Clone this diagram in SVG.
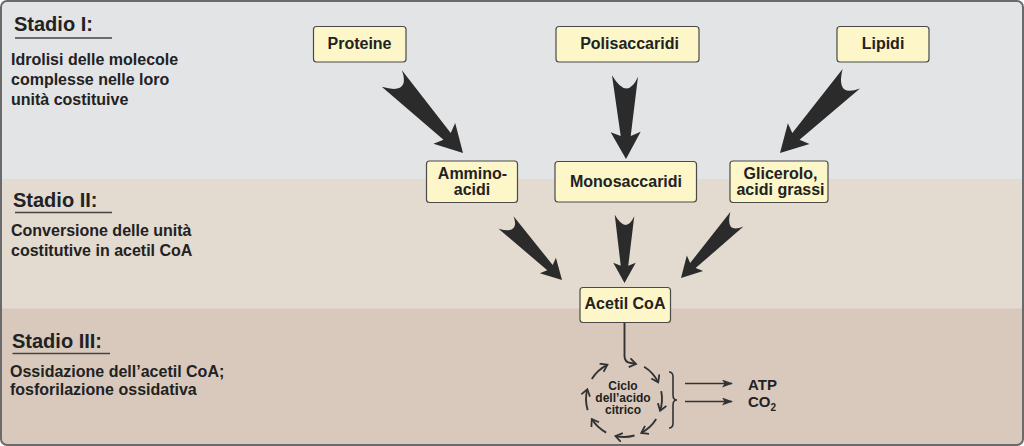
<svg xmlns="http://www.w3.org/2000/svg" width="1024" height="446" viewBox="0 0 1024 446">
<style>
.hdr{font-family:"Liberation Sans",Arial,sans-serif;font-weight:bold;font-size:20px;fill:#222}
.desc{font-family:"Liberation Sans",Arial,sans-serif;font-weight:bold;font-size:16px;fill:#222}
.lbl{font-family:"Liberation Sans",Arial,sans-serif;font-weight:bold;font-size:16px;fill:#222;text-anchor:middle}
.cyc{font-family:"Liberation Sans",Arial,sans-serif;font-weight:bold;font-size:12px;fill:#222;text-anchor:middle}
.box{fill:#fcf6c8;stroke:#4a4a4a;stroke-width:1.2}
.ul{stroke:#444;stroke-width:1.6}
.big{fill:#2b2b2b}
.arc{fill:none;stroke:#333;stroke-width:1.9;marker-end:url(#chev)}
.thin{fill:none;stroke:#333;stroke-width:1.6}
</style>
<defs>
<clipPath id="frame"><rect x="1" y="1" width="1022" height="444" rx="6"/></clipPath>
<marker id="chev" markerUnits="userSpaceOnUse" markerWidth="12" markerHeight="12" refX="7" refY="5" orient="auto">
<path d="M0.5,0.5 L7,5 L0.5,9.5" fill="none" stroke="#333" stroke-width="1.8"/>
</marker>
<marker id="tri" markerUnits="userSpaceOnUse" markerWidth="12" markerHeight="10" refX="10" refY="4" orient="auto">
<path d="M0,0 L11,4 L0,8 L2.5,4 Z" fill="#333"/>
</marker>
</defs>

<g id="background" clip-path="url(#frame)">
<rect x="0" y="0" width="1024" height="179" fill="#e3e4e6"/>
<rect x="0" y="179" width="1024" height="130" fill="#e3dad0"/>
<rect x="0" y="308.5" width="1024" height="138" fill="#d9c9bc"/>
</g>
<rect x="1" y="1" width="1022" height="444" rx="6" fill="none" stroke="#6a6a6a" stroke-width="2"/>

<g id="stage1">
<text class="hdr" x="14" y="31">Stadio I:</text>
<line class="ul" x1="15" y1="38" x2="112" y2="38"/>
<text class="desc" x="11" y="65">Idrolisi delle molecole</text>
<text class="desc" x="11" y="85">complesse nelle loro</text>
<text class="desc" x="11" y="105">unità costituive</text>
</g>
<g id="stage2">
<text class="hdr" x="13" y="206.5">Stadio II:</text>
<line class="ul" x1="15" y1="212.5" x2="112" y2="212.5"/>
<text class="desc" x="11" y="236">Conversione delle unità</text>
<text class="desc" x="11" y="255.5">costitutive in acetil CoA</text>
</g>
<g id="stage3">
<text class="hdr" x="12" y="347.5">Stadio III:</text>
<line class="ul" x1="12.5" y1="353.5" x2="110" y2="353.5"/>
<text class="desc" x="10" y="377">Ossidazione dell’acetil CoA;</text>
<text class="desc" x="10" y="395">fosforilazione ossidativa</text>
</g>

<g id="proteine">
<rect class="box" x="313.5" y="26.5" width="92.5" height="35.5" rx="3"/>
<text class="lbl" x="359.5" y="48.5">Proteine</text>
</g>
<g id="polisaccaridi">
<rect class="box" x="556" y="26.5" width="143" height="35.5" rx="3"/>
<text class="lbl" x="629.5" y="48.5">Polisaccaridi</text>
</g>
<g id="lipidi">
<rect class="box" x="837" y="26.5" width="92" height="35.5" rx="3"/>
<text class="lbl" x="883" y="48.5">Lipidi</text>
</g>
<g id="amminoacidi">
<rect class="box" x="426.5" y="161" width="91" height="41.5" rx="3"/>
<text class="lbl" x="472.5" y="179">Ammino-</text>
<text class="lbl" x="472" y="195">acidi</text>
</g>
<g id="monosaccaridi">
<rect class="box" x="555" y="161.5" width="141.5" height="40.5" rx="3"/>
<text class="lbl" x="626" y="187">Monosaccaridi</text>
</g>
<g id="glicerolo">
<rect class="box" x="730" y="161" width="98" height="41.5" rx="3"/>
<text class="lbl" x="780.5" y="178.5">Glicerolo,</text>
<text class="lbl" x="780.5" y="194.5">acidi grassi</text>
</g>
<g id="acetilcoa">
<rect class="box" x="580" y="287.5" width="90.5" height="35" rx="3"/>
<text class="lbl" x="625" y="308.5">Acetil CoA</text>
</g>

<g id="cycle">
<text class="cyc" x="623" y="389.5">Ciclo</text>
<text class="cyc" x="623" y="401.5">dell’acido</text>
<text class="cyc" x="623" y="413.5">citrico</text>
</g>

<g id="products">
<text class="lbl" x="748" y="390" style="text-anchor:start;font-size:15px">ATP</text>
<text class="lbl" x="748" y="406.5" style="text-anchor:start;font-size:15px">CO<tspan font-size="10" dy="4">2</tspan></text>
</g>

<g id="connectors">
<path class="big" transform="translate(463,153) rotate(-43.7)" d="M0 0 L-15 -27 L-5 -23 L-13 -104 Q2 -78 13 -102 L5 -23 L15 -27 Z"/>
<path class="big" transform="translate(626,159) rotate(-0.7)" d="M0 0 L-15 -27 L-5 -23 L-13 -84 Q2 -58 13 -82 L5 -23 L15 -27 Z"/>
<path class="big" transform="translate(780,153) rotate(43.8)" d="M0 0 L-15 -27 L-5 -23 L-13 -104 Q2 -78 13 -102 L5 -23 L15 -27 Z"/>
<path class="big" transform="translate(562,280) rotate(-44.2) scale(0.75)" d="M0 0 L-15 -27 L-5 -23 L-13 -108 Q2 -82 13 -106 L5 -23 L15 -27 Z"/>
<path class="big" transform="translate(624.5,283) scale(0.75)" d="M0 0 L-15 -27 L-5 -23 L-13 -91 Q2 -65 13 -89 L5 -23 L15 -27 Z"/>
<path class="big" transform="translate(681,278) rotate(43.6) scale(0.75)" d="M0 0 L-15 -27 L-5 -23 L-13 -109 Q2 -83 13 -107 L5 -23 L15 -27 Z"/>

<path class="arc" d="M624.5 322.5 V356 Q624.5 362.5 631 363 L636 364"/>
<path class="arc" d="M644.1 366.8 A38 38 0 0 1 658.2 382.3"/>
<path class="arc" d="M661.2 391.1 A38 38 0 0 1 660.1 410.7"/>
<path class="arc" d="M656.2 419.1 A38 38 0 0 1 641.3 432.9"/>
<path class="arc" d="M634.5 435.5 A38 38 0 0 1 615.5 436"/>
<path class="arc" d="M606.2 432.6 A38 38 0 0 1 591.8 419.1"/>
<path class="arc" d="M587.7 410.1 A38 38 0 0 1 587.3 389.2"/>
<path class="arc" d="M591.8 378.9 A38 38 0 0 1 607.4 364.8"/>

<path class="thin" stroke-width="1.2" d="M669 372 Q673 372 673 377 L673 395 Q673 400 677 400 Q673 400 673 405 L673 423 Q673 428 669 428"/>
<line class="thin" x1="685" y1="383.5" x2="732" y2="383.5" marker-end="url(#tri)"/>
<line class="thin" x1="685" y1="401.5" x2="732" y2="401.5" marker-end="url(#tri)"/>
</g>
</svg>
